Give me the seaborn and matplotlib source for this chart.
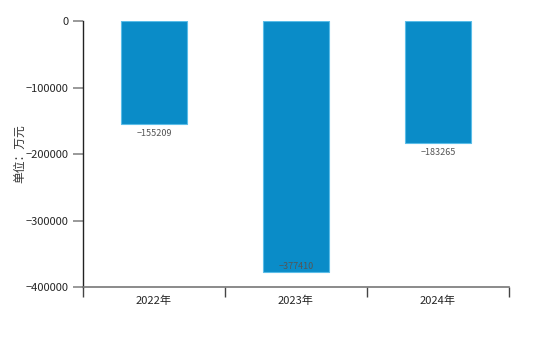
import matplotlib
matplotlib.use("Agg")
import matplotlib.pyplot as plt
import seaborn as sns
import pandas as pd
from matplotlib.ticker import FixedLocator

years = ["2022年", "2023年", "2024年"]
values = [-155209, -377410, -183265]
y_ticks = [0, -100000, -200000, -300000, -400000]
y_min = -400000

sns.set_style("white")
plt.rcParams['font.family'] = ['Noto Sans CJK SC', 'DejaVu Sans']

df = pd.DataFrame({"year": years, "value": values})

fig = plt.figure(figsize=(5.6, 3.46), dpi=100)
ax = fig.add_axes([0.148, 0.1705, 0.761, 0.7685])

sns.barplot(data=df, x="year", y="value", color="#0a8cc8", width=0.47,
            saturation=1, edgecolor="#5bbde8", linewidth=0.8, ax=ax)

ax.set_ylim(y_min, 0)
ax.set_xlim(-0.5, 2.5)
ax.set_yticks(y_ticks)
ax.set_yticklabels([str(v).replace("-", "−") for v in y_ticks], fontsize=8)
ax.set_xlabel("")
ax.set_ylabel("单位：万元", fontsize=8.5, color="#333333")
ax.yaxis.set_label_coords(-0.132, 0.5)

# value labels below each bar end; kept inside the bar when near the axis floor
for i, v in enumerate(values):
    label = str(v).replace("-", "−")
    if v - 40000 < y_min:
        ax.text(i, v + 1500, label, ha="center", va="bottom",
                fontsize=6.5, color="#555555")
    else:
        ax.text(i, v - 7000, label, ha="center", va="top",
                fontsize=6.5, color="#555555")

for side in ["top", "right"]:
    ax.spines[side].set_visible(False)
ax.spines["left"].set_color("#222222")
ax.spines["left"].set_linewidth(1.0)
ax.spines["bottom"].set_color("#777777")
ax.spines["bottom"].set_linewidth(1.2)

# category boundary ticks on x axis
ax.xaxis.set_minor_locator(FixedLocator([-0.5, 0.5, 1.5, 2.5]))
ax.tick_params(axis="x", which="major", length=0, labelsize=8, pad=6)
ax.tick_params(axis="x", which="minor", length=7, width=1, color="#444444",
               direction="out", bottom=True)
ax.tick_params(axis="y", which="major", length=7, width=1.2, color="#888888",
               labelsize=8, left=True)

fig.savefig("out.png", dpi=100)
